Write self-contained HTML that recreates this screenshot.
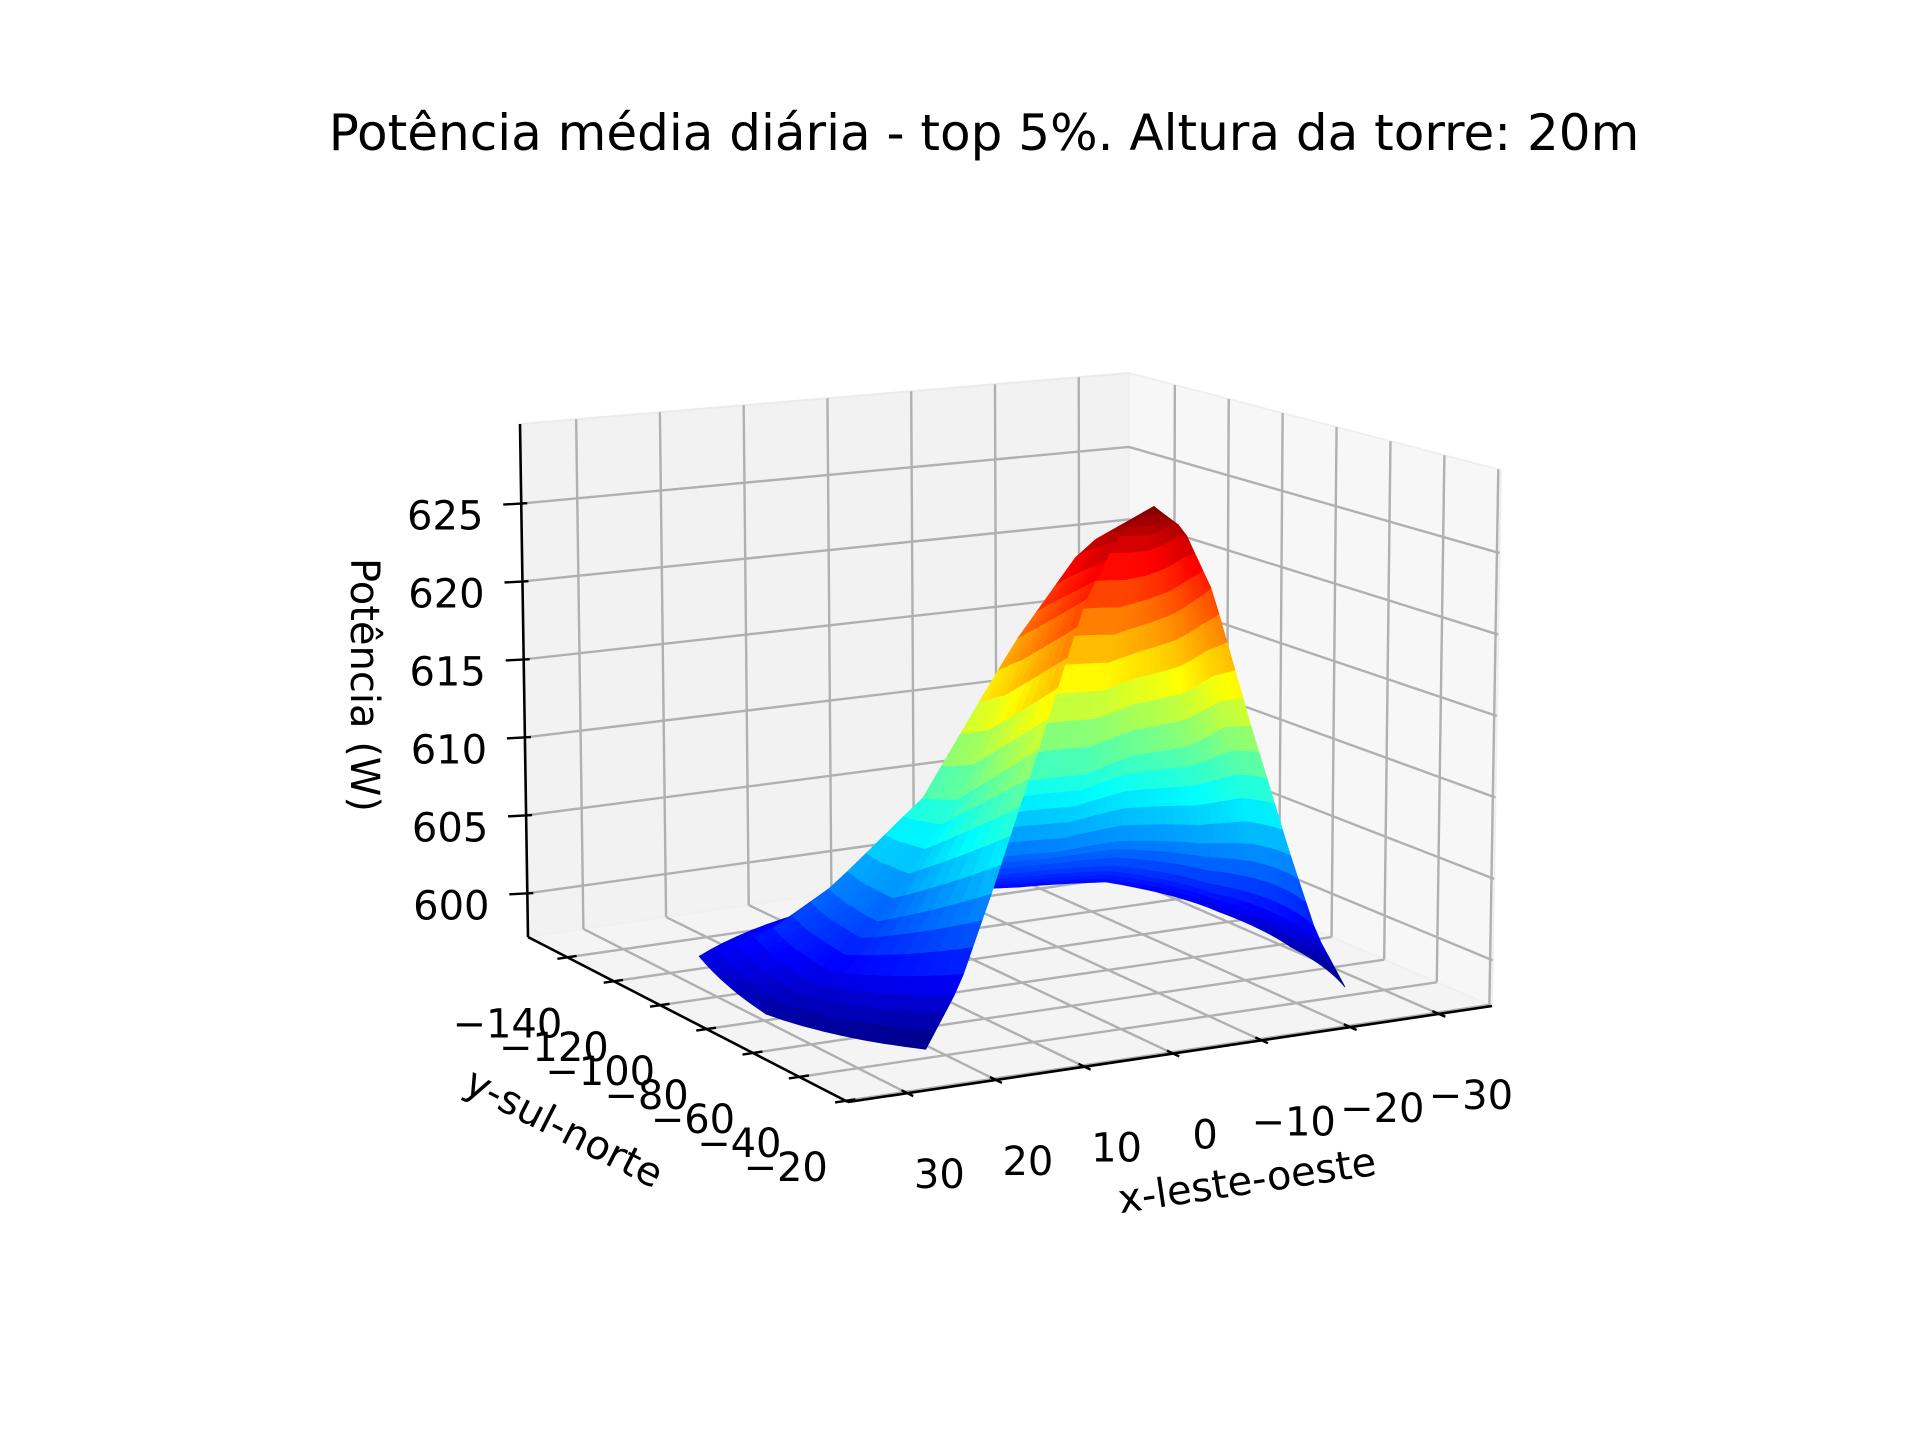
<!DOCTYPE html>
<html><head><meta charset="utf-8"><style>
html,body{margin:0;padding:0;background:#fff;}
svg{display:block;}
text{font-family:"DejaVu Sans","Liberation Sans",sans-serif;fill:#000;}
</style></head><body>
<svg id="chart" width="1920" height="1440" viewBox="0 0 1920 1440" xmlns="http://www.w3.org/2000/svg">
<text x="984" y="150" font-size="50" text-anchor="middle">Potência média diária - top 5%. Altura da torre: 20m</text>
<g id="panes"></g>
<g id="grid"></g>
<g id="axes"></g>
<g id="surface"></g>
<g id="ticks"></g>
<text x="362" y="685" font-size="40" text-anchor="middle" transform="rotate(90 362 685)" dominant-baseline="middle">Potência (W)</text>
<text x="1249" y="1194" font-size="40" text-anchor="middle" transform="rotate(-8.5 1249 1194)">x-leste-oeste</text>
<text x="558" y="1140" font-size="40" text-anchor="middle" transform="rotate(27 558 1140)">y-sul-norte</text>
</svg>
<script>
// ---- data ----
const xTicks = [30, 20, 10, 0, -10, -20, -30];
const yTicks = [-140, -120, -100, -80, -60, -40, -20];
const zTicks = [600, 605, 610, 615, 620, 625];
const xTickLabels = ["30", "20", "10", "0", "\u221210", "\u221220", "\u221230"];
const yTickLabels = ["\u2212140", "\u2212120", "\u2212100", "\u221280", "\u221260", "\u221240", "\u221220"];
const zTickLabels = ["600", "605", "610", "615", "620", "625"];
// surface: polar rays around the peak
const peakX = -6, peakY = -48;
const rayAngles = [0, 24, 38, 63, 91, 107, 132, 155, 180];
const rayReach = [0.87, 1.35, 1.63, 1.48, 1.12, 1.07, 0.82, 0.75, 0.73];
const rayFractions = [0, 0.15, 0.3, 0.5, 0.7, 0.85, 1];
const rayPower = [
  [628, 626.5, 622.5, 614, 606, 600.5, 597],
  [628, 626, 620.5, 610.5, 603.5, 600, 598],
  [628, 625.5, 619.5, 610, 604.5, 601.5, 600],
  [628, 625.5, 619, 609.5, 604, 601.5, 600.5],
  [628, 625.5, 619, 610, 604.5, 602.5, 601],
  [628, 625.5, 619.5, 611, 605, 602.5, 601],
  [628, 626, 620.5, 612, 605.5, 602, 600],
  [628, 626.5, 621.5, 613.5, 606, 601.5, 598.5],
  [628, 626.5, 622.5, 614, 606, 600.5, 597]
];
// ---- axes ----
const XMAX = 36.7, XMIN = -36, YMIN = -157, YMAX = -19, ZMIN = 597.2, ZMAX = 630.1;
const C = {
  '000':[528,937], '100':[1129,850], '010':[848,1102], '110':[1492,1006],
  '001':[520,424], '101':[1129,373], '011':[838,526], '111':[1501,470]
};
function lerp(a,b,t){return [a[0]+(b[0]-a[0])*t, a[1]+(b[1]-a[1])*t];}
function P(x,y,z){
  const ix=(XMAX-x)/(XMAX-XMIN), iy=(y-YMIN)/(YMAX-YMIN), iz=(z-ZMIN)/(ZMAX-ZMIN);
  const b=lerp(lerp(C['000'],C['100'],ix), lerp(C['010'],C['110'],ix), iy);
  const t=lerp(lerp(C['001'],C['101'],ix), lerp(C['011'],C['111'],ix), iy);
  return lerp(b,t,iz);
}
function depth(x,y){const ix=(XMAX-x)/(XMAX-XMIN), iy=(y-YMIN)/(YMAX-YMIN);return 165*iy-87*ix;}
const NS="http://www.w3.org/2000/svg";
function mk(tag,parent,attrs){const e=document.createElementNS(NS,tag);for(const k in attrs)e.setAttribute(k,attrs[k]);parent.appendChild(e);return e;}
function pts(a){return a.map(p=>p[0].toFixed(1)+','+p[1].toFixed(1)).join(' ');}
function line(parent,a,b,stroke,w){return mk('line',parent,{x1:a[0],y1:a[1],x2:b[0],y2:b[1],stroke:stroke,'stroke-width':w});}

const panes=document.getElementById('panes');
let e;
e=mk('polygon',panes,{points:pts([P(XMAX,YMIN,ZMIN),P(XMIN,YMIN,ZMIN),P(XMIN,YMIN,ZMAX),P(XMAX,YMIN,ZMAX)]),fill:'#f2f2f2',stroke:'#ebebeb','stroke-width':2});


e=mk('polygon',panes,{points:pts([P(XMIN,YMIN,ZMIN),P(XMIN,YMAX,ZMIN),P(XMIN,YMAX,ZMAX),P(XMIN,YMIN,ZMAX)]),fill:'#f7f7f7',stroke:'#efefef','stroke-width':2});


e=mk('polygon',panes,{points:pts([P(XMAX,YMIN,ZMIN),P(XMIN,YMIN,ZMIN),P(XMIN,YMAX,ZMIN),P(XMAX,YMAX,ZMIN)]),fill:'#f4f4f4',stroke:'#f0f0f0','stroke-width':2});



const grid=document.getElementById('grid');
const GC='#b0b0b0', GW=2.4;
xTicks.forEach(x=>{
  e=line(grid,P(x,YMIN,ZMIN),P(x,YMAX,ZMIN),GC,GW);
  
  
  e=line(grid,P(x,YMIN,ZMIN),P(x,YMIN,ZMAX),GC,GW);
  
  
});
yTicks.forEach(y=>{
  e=line(grid,P(XMAX,y,ZMIN),P(XMIN,y,ZMIN),GC,GW);
  
  
  e=line(grid,P(XMIN,y,ZMIN),P(XMIN,y,ZMAX),GC,GW);
  
  
});
zTicks.forEach(z=>{
  e=line(grid,P(XMAX,YMIN,z),P(XMIN,YMIN,z),GC,GW);
  
  
  e=line(grid,P(XMIN,YMIN,z),P(XMIN,YMAX,z),GC,GW);
  
  
});

const axes=document.getElementById('axes');
e=line(axes,P(XMAX,YMIN,ZMIN),P(XMAX,YMIN,ZMAX),'#000',2.6);


e=line(axes,P(XMAX,YMAX,ZMIN),P(XMIN,YMAX,ZMIN),'#000',2.6);


e=line(axes,P(XMAX,YMIN,ZMIN),P(XMAX,YMAX,ZMIN),'#000',2.6);



// ---- surface ----
function jet(t){t=Math.max(0,Math.min(1,t));
  const c=v=>Math.round(255*Math.max(0,Math.min(1,1.5-Math.abs(v))));
  return 'rgb('+c(4*t-3)+','+c(4*t-2)+','+c(4*t-1)+')';}
function profileZ(k,f){
  const row=rayPower[k];
  for(let i=0;i<rayFractions.length-1;i++){
    if(f<=rayFractions[i+1]){const t=(f-rayFractions[i])/(rayFractions[i+1]-rayFractions[i]);return row[i]+(row[i+1]-row[i])*t;}
  }
  return row[row.length-1];
}
let zlo=Infinity,zhi=-Infinity;
rayPower.forEach(r=>r.forEach(v=>{zlo=Math.min(zlo,v);zhi=Math.max(zhi,v);}));
function surfPoint(k,s,f){
  const k2=Math.min(k+1,rayAngles.length-1);
  const th=(rayAngles[k]+(rayAngles[k2]-rayAngles[k])*s)*Math.PI/180;
  const r=rayReach[k]+(rayReach[k2]-rayReach[k])*s;
  const z=profileZ(k,f)+(profileZ(k2,f)-profileZ(k,f))*s;
  const x=peakX+30*r*f*Math.cos(th), y=peakY-50*r*f*Math.sin(th);
  return {x:x,y:y,z:z};
}
const faces=[];
const SA=8, SF=24;
for(let k=0;k<rayAngles.length-1;k++){
  for(let a=0;a<SA;a++){
    for(let b=0;b<SF;b++){
      const s0=a/SA,s1=(a+1)/SA,f0=b/SF,f1=(b+1)/SF;
      const q=[surfPoint(k,s0,f0),surfPoint(k,s1,f0),surfPoint(k,s1,f1),surfPoint(k,s0,f1)];
      const cx=q.reduce((m,p)=>m+p.x,0)/4, cy=q.reduce((m,p)=>m+p.y,0)/4, cz=q.reduce((m,p)=>m+p.z,0)/4;
      faces.push({q:q,d:depth(cx,cy),z:cz});
    }
  }
}
faces.sort((a,b)=>a.d-b.d);
const surf=document.getElementById('surface');
faces.forEach(fc=>{
  const col=jet((fc.z-zlo)/(zhi-zlo));
  const el=mk('polygon',surf,{points:pts(fc.q.map(p=>P(p.x,p.y,p.z))),fill:col,stroke:col,'stroke-width':0.8,'stroke-linejoin':'round'});
  
  
});

// ---- ticks & labels ----
const ticks=document.getElementById('ticks');
zTicks.forEach((z,i)=>{
  const a=P(XMAX,YMIN,z);
  e=line(ticks,[a[0]-18,a[1]+1],[a[0]+6,a[1]-0.3],'#000',2.4);
  
  
  e=mk('text',ticks,{x:a[0]-76,y:a[1]+26,'font-size':40,'text-anchor':'middle'});
  e.textContent=zTickLabels[i];
  
  
});
yTicks.forEach((y,i)=>{
  const a=P(XMAX+1.2,y,ZMIN), b=P(XMAX-1.1,y,ZMIN), c=P(XMAX,y,ZMIN);
  e=line(ticks,a,b,'#000',2.4);
  
  
  e=mk('text',ticks,{x:c[0]-60,y:c[1]+80,'font-size':40,'text-anchor':'middle'});
  e.textContent=yTickLabels[i];
  
  
});
xTicks.forEach((x,i)=>{
  const a=P(x,YMAX+2.5,ZMIN), b=P(x,YMAX-2.5,ZMIN), c=P(x,YMAX,ZMIN);
  e=line(ticks,a,b,'#000',2.4);
  
  
  e=mk('text',ticks,{x:c[0]+32,y:c[1]+95,'font-size':40,'text-anchor':'middle'});
  e.textContent=xTickLabels[i];
  
  
});
</script>
</body></html>
